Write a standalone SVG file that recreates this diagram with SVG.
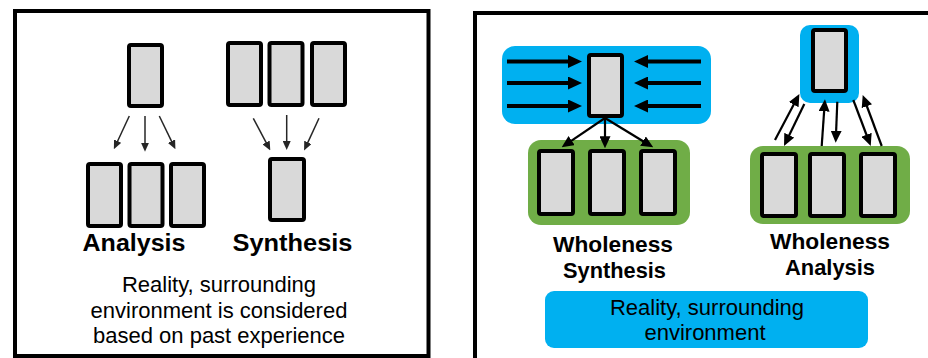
<svg xmlns="http://www.w3.org/2000/svg" width="928" height="358" viewBox="0 0 928 358">
<defs>
<style>
.frame{fill:#fff;stroke:#000;stroke-width:4}
.box{fill:#D9D9D9;stroke:#000;stroke-width:4}
.blue{fill:#00B0F0}
.green{fill:#70AD47}
.t{font-family:"Liberation Sans",Arial,sans-serif;fill:#000;text-anchor:middle}
.b{font-weight:bold}
.thin{stroke:#262626;stroke-width:1.5;fill:none;marker-end:url(#ahS)}
.thick{stroke:#000;stroke-width:4;fill:none;marker-end:url(#ahL)}
.med{stroke:#000;stroke-width:2.2;fill:none;marker-end:url(#ahM)}
</style>
<marker id="ahS" markerUnits="userSpaceOnUse" markerWidth="9" markerHeight="8" refX="3" refY="4" orient="auto"><path d="M0,0 L9,4 L0,8 z" fill="#262626"/></marker>
<marker id="ahL" markerUnits="userSpaceOnUse" markerWidth="14" markerHeight="13" refX="5" refY="6.5" orient="auto"><path d="M0,0 L14,6.5 L0,13 z" fill="#000"/></marker>
<marker id="ahM" markerUnits="userSpaceOnUse" markerWidth="12" markerHeight="11" refX="4" refY="5.5" orient="auto"><path d="M0,0 L12,5.5 L0,11 z" fill="#000"/></marker>
</defs>
<rect x="0" y="0" width="928" height="358" fill="#fff"/>

<g id="left-panel">
<rect class="frame" x="15" y="11" width="413.5" height="345"/>
</g>
<g id="right-panel">
<rect class="frame" x="475" y="13" width="470" height="360"/>
</g>

<g id="analysis-source"><rect class="box" x="129" y="45" width="33" height="61" rx="2"/></g>
<g id="analysis-parts">
<rect class="box" x="88" y="164" width="33" height="62" rx="2"/>
<rect class="box" x="129.5" y="164" width="33" height="62" rx="2"/>
<rect class="box" x="171" y="164" width="33" height="62" rx="2"/>
</g>
<g id="synthesis-parts">
<rect class="box" x="228" y="43" width="33" height="62" rx="2"/>
<rect class="box" x="269.5" y="43" width="33" height="62" rx="2"/>
<rect class="box" x="312" y="43" width="33" height="62" rx="2"/>
</g>
<g id="synthesis-result"><rect class="box" x="270" y="159" width="34" height="61" rx="2"/></g>
<g id="left-labels">
<text class="t b" x="134" y="251" font-size="23.5" textLength="103" lengthAdjust="spacingAndGlyphs">Analysis</text>
<text class="t b" x="292.5" y="251" font-size="23.5" textLength="120" lengthAdjust="spacingAndGlyphs">Synthesis</text>
<text class="t" x="219" y="292" font-size="22">Reality, surrounding</text>
<text class="t" x="219" y="318" font-size="22">environment is considered</text>
<text class="t" x="219" y="343" font-size="22">based on past experience</text>
</g>

<g id="wholeness-synthesis-top">
<rect class="blue" x="502" y="46" width="209" height="78" rx="13"/>
<rect class="box" x="589" y="55" width="33" height="61" rx="2"/>
</g>
<g id="wholeness-synthesis-parts">
<rect class="green" x="528" y="140" width="162" height="85" rx="13"/>
<rect class="box" x="539" y="151" width="34" height="63" rx="2"/>
<rect class="box" x="590" y="151" width="34" height="63" rx="2"/>
<rect class="box" x="641" y="151" width="34" height="63" rx="2"/>
</g>
<g id="wholeness-analysis-top">
<rect class="blue" x="800" y="25" width="59" height="78" rx="10"/>
<rect class="box" x="813" y="30" width="33" height="61" rx="2"/>
</g>
<g id="wholeness-analysis-parts">
<rect class="green" x="750" y="146" width="160" height="78" rx="13"/>
<rect class="box" x="762" y="154" width="34" height="62" rx="2"/>
<rect class="box" x="810" y="154" width="34" height="62" rx="2"/>
<rect class="box" x="861" y="154" width="34" height="62" rx="2"/>
</g>
<g id="right-labels">
<text class="t b" x="613" y="252" font-size="21.5" textLength="120" lengthAdjust="spacingAndGlyphs">Wholeness</text>
<text class="t b" x="614.5" y="278" font-size="21.5" textLength="103" lengthAdjust="spacingAndGlyphs">Synthesis</text>
<text class="t b" x="830" y="249" font-size="21.5" textLength="120" lengthAdjust="spacingAndGlyphs">Wholeness</text>
<text class="t b" x="830" y="275" font-size="21.5" textLength="90" lengthAdjust="spacingAndGlyphs">Analysis</text>
</g>
<g id="reality-bar">
<rect class="blue" x="545" y="291" width="323" height="57" rx="9"/>
<text class="t" x="707" y="315" font-size="22">Reality, surrounding</text>
<text class="t" x="705" y="340" font-size="22">environment</text>
</g>

<g id="connectors">
<line class="thin" x1="129.3" y1="116" x2="116.4" y2="143.8"/>
<line class="thin" x1="145" y1="116" x2="145" y2="145.7"/>
<line class="thin" x1="159.3" y1="116" x2="172.8" y2="143.8"/>
<line class="thin" x1="253.3" y1="118.3" x2="267.5" y2="145.1"/>
<line class="thin" x1="286.7" y1="115" x2="286.7" y2="144"/>
<line class="thin" x1="319" y1="118.3" x2="306.6" y2="145.1"/>

<line class="thick" x1="507" y1="61.5" x2="573" y2="61.5"/>
<line class="thick" x1="507" y1="83" x2="573" y2="83"/>
<line class="thick" x1="507" y1="106" x2="573" y2="106"/>
<line class="thick" x1="701" y1="61.5" x2="643" y2="61.5"/>
<line class="thick" x1="701" y1="83" x2="643" y2="83"/>
<line class="thick" x1="701" y1="106" x2="643" y2="106"/>

<line class="med" x1="605" y1="118" x2="568.3" y2="142.8"/>
<line class="med" x1="605" y1="118" x2="605" y2="140.3"/>
<line class="med" x1="605" y1="118" x2="646.4" y2="143.2"/>

<line class="med" x1="775" y1="140" x2="795.6" y2="101.1"/>
<line class="med" x1="804.3" y1="104" x2="787.5" y2="138.8"/>
<line class="med" x1="821.7" y1="146" x2="824.4" y2="107.3"/>
<line class="med" x1="837.3" y1="101.7" x2="836" y2="134.7"/>
<line class="med" x1="853.3" y1="100" x2="867.9" y2="138.5"/>
<line class="med" x1="881.7" y1="146" x2="865.5" y2="102.5"/>
</g>
</svg>
